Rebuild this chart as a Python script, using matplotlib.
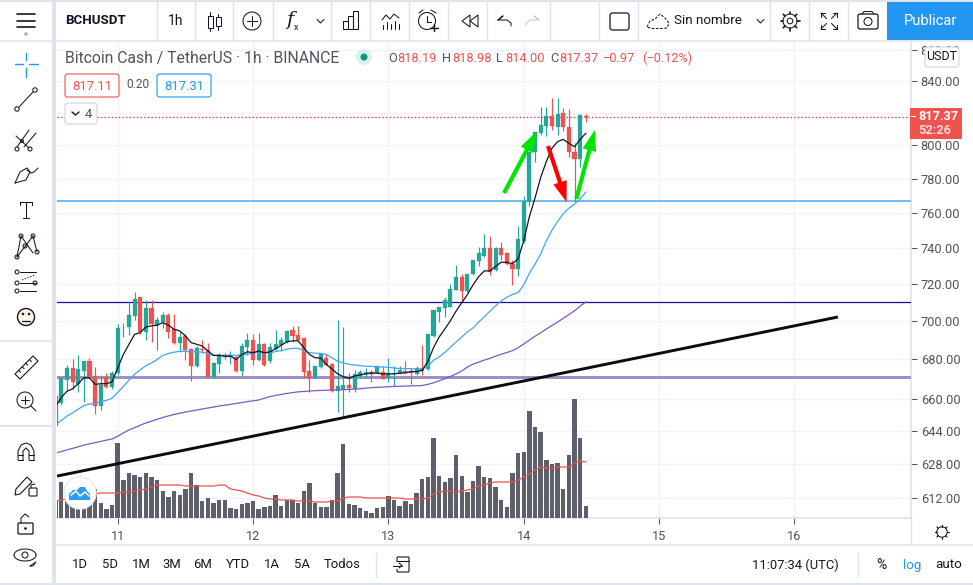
import numpy as np
import matplotlib
matplotlib.use('Agg')
import matplotlib.pyplot as plt
from matplotlib.patches import Circle, FancyBboxPatch, Polygon, Rectangle

plt.rcParams['font.family'] = ['Roboto', 'DejaVu Sans']

# hours from 11th 00:00, one candle per hour
times = np.arange(-11, 84)

opens = [646.6, 657.9, 669.3, 675.5, 667.5, 674.1, 679.3, 671.4, 656.1, 670.7,
         665.8, 672.8, 696.2, 696.9, 702.7, 713.0, 694.5, 706.8, 698.0, 699.7,
         703.1, 695.7, 688.7, 692.2, 685.1, 676.7, 685.5, 684.6, 671.1, 677.8,
         682.1, 681.1, 681.3, 674.2, 686.4, 690.1, 679.5, 687.8, 679.0, 685.5,
         687.3, 689.2, 695.4, 692.6, 691.0, 674.1, 670.6, 675.9, 680.8, 677.8,
         663.7, 664.9, 666.7, 664.9, 671.6, 672.5, 673.4, 673.2, 673.4, 670.2,
         672.5, 672.9, 674.1, 674.1, 672.5, 675.0, 675.0, 692.1, 705.1, 706.9,
         707.7, 716.8, 723.6, 716.0, 725.3, 732.6, 735.3, 739.8, 727.6, 739.8,
         736.9, 730.8, 728.1, 744.1, 766.0, 795.9, 807.5, 811.8, 818.0, 811.3,
         819.6, 811.3, 796.1, 791.7, 818.19]
highs = [662, 670.7, 677.2, 680.4, 682, 679.3, 680.7, 676, 671.9, 673.2,
         674.2, 698.3, 699.2, 710.1, 715.6, 713, 711.5, 711.2, 702.2, 705,
         704.5, 703.6, 694.3, 693.1, 686, 686.9, 689.9, 688.7, 678.5, 683.4,
         683.4, 684.3, 681.6, 688.7, 693.6, 693.1, 693.6, 688.7, 688.7, 695.4,
         691.7, 695.4, 697.2, 697.2, 691, 679.5, 676.4, 683.4, 682.9, 678.1,
         700.5, 697.1, 672.9, 674.6, 674.3, 675.5, 674.3, 676.7, 676.7, 680.8,
         676.4, 676.4, 679, 675.5, 676.4, 687.3, 693.1, 705.8, 707.8, 713,
         720, 730.3, 725.3, 725.4, 733.5, 740.5, 748, 747, 740.5, 743.5,
         737.8, 733.4, 752.3, 769.5, 796.1, 808, 823.6, 823.6, 829.2, 829.2,
         823, 822.3, 801.6, 819, 818.98]
lows = [646, 657, 664, 664.9, 663.1, 658.4, 670.2, 652.1, 654.3, 665.3,
        664.9, 671.9, 691.8, 692.5, 700.6, 693.1, 689.9, 689.2, 684.8, 696.6,
        690.9, 688.1, 683.7, 679.5, 669, 676, 683.4, 670.7, 670.2, 672.8,
        679.9, 677.8, 673.7, 671.4, 682, 676.9, 679, 676.7, 678.1, 684.3,
        684.3, 688.7, 689.2, 689.2, 670.2, 663.5, 670.2, 675.5, 676.9, 663.5,
        653.2, 650.5, 663.2, 663.2, 670.2, 670.2, 668.5, 672.9, 669.7, 668.5,
        666.2, 672.5, 672.9, 667.2, 672, 672, 674.6, 691.8, 699.3, 702,
        707.5, 716.5, 711, 715.4, 724.9, 729.7, 735.1, 724.9, 727.2, 733.4,
        730.3, 719.5, 724.3, 743, 764, 789.9, 806.3, 805.7, 809.3, 806.3,
        808.9, 792.9, 766.4, 787.1, 814]
closes = [661.4, 670.2, 675.5, 668.4, 675.1, 679.3, 670.7, 656.5, 666.7, 665.8,
          673.2, 696.6, 696.6, 703.1, 712.1, 694.3, 706.8, 698.3, 700.5, 703.1,
          694.5, 688.7, 691.8, 684.6, 676.3, 685.7, 684.8, 671.1, 678.1, 682.1,
          681.1, 682, 674.2, 686.9, 689.9, 679.5, 687.8, 677.3, 686.4, 687.8,
          689.9, 694.9, 692.2, 690.1, 673.7, 670.2, 676.4, 682.5, 677.3, 663.7,
          666.2, 666.7, 665.3, 672.3, 673.7, 673.4, 672.3, 676.4, 669.9, 672.9,
          672.9, 674.3, 673.2, 672.9, 675.5, 673.9, 693.1, 705.8, 707.4, 711.1,
          717.4, 723.6, 716, 725.4, 733.5, 736.9, 739.8, 726.7, 739.8, 736.2,
          730.8, 728.1, 745, 766.6, 796.1, 808, 812.4, 818, 811.8, 819,
          811.3, 796.1, 791.7, 818.34, 817.37]

ma_black = [656.1, 660.5, 663.7, 664.9, 667.5, 670.5, 670.5, 667.2, 667.5, 667.5,
            668.4, 675.5, 682.5, 687.8, 693, 693.9, 696.9, 697.5, 697.8, 699.2,
            697.8, 695.7, 694.8, 692.2, 688.7, 687.8, 686.9, 684.3, 682, 682,
            681.6, 681.6, 679.9, 682.5, 683.9, 683.4, 684.3, 683.4, 683.8, 685.5,
            687.3, 689.1, 689.6, 689.6, 686, 682.5, 680.8, 680.6, 677.3, 675,
            672.5, 671.1, 670.2, 671.4, 672, 672.5, 672.9, 672.9, 672.5, 672.5,
            672.5, 672.9, 673, 673.7, 673.7, 674.3, 679, 686, 691.6, 695.8,
            700.2, 705.4, 709.8, 714.2, 719.5, 724, 727.2, 727.2, 729.7, 732,
            732, 731.2, 733.9, 744.1, 757.8, 768.6, 780.7, 790.1, 798.2, 802.2,
            803.6, 801.2, 799.1, 803.6, 807.3]
ma_blue = [647.3, 649.1, 651.3, 652.9, 654.7, 656.5, 657.3, 657.5, 658.4, 659.1,
           660.2, 663.1, 666.1, 669.3, 672.3, 674.6, 676.7, 678.1, 679.9, 682,
           683, 683.7, 684.1, 684.1, 683.9, 683.9, 683.7, 683, 682.1, 682.1,
           682.1, 682.1, 682, 682.5, 682.5, 683.4, 683.9, 683.4, 683.4, 684,
           684.5, 685.2, 685.7, 685.7, 684.3, 683.4, 683.2, 683, 682.5, 680.8,
           679, 678.1, 677.4, 677.1, 676.7, 676.4, 676.4, 676, 676, 675.9,
           675.5, 675.3, 675.2, 675.2, 675, 675.2, 676.4, 679.5, 681.2, 683.6,
           686.3, 689, 691.6, 694.3, 696.4, 699.5, 702.3, 705.3, 708.2, 710.8,
           712.8, 714.3, 715.4, 719.5, 725.9, 731, 736.6, 744, 750, 755,
           759.5, 762.7, 765, 768, 772]
ma_purple = [633.3, 634, 634.8, 635.5, 636.3, 637.1, 637.7, 638.3, 638.9, 639.5,
             640.1, 641.4, 643, 644.5, 645.6, 646.8, 647.9, 648.8, 649.7, 650.6,
             651.4, 652.1, 652.7, 653.3, 653.8, 654.3, 654.8, 655.3, 655.8, 656.3,
             656.7, 657.1, 657.6, 658, 658.5, 658.9, 659.3, 660.2, 661, 661.6,
             662.1, 662.6, 663, 663.4, 663.6, 663.8, 664, 664.1, 664.2, 664.3,
             664.4, 664.5, 664.6, 664.8, 665, 665.3, 665.5, 665.7, 665.8, 666,
             666.1, 666.2, 666.3, 666.4, 666.5, 666.6, 667.2, 668, 669, 670,
             671.2, 672.5, 674, 676, 677.5, 678.5, 679.6, 680.5, 681.6, 682.6,
             683.5, 684.5, 686, 688, 690, 692, 693.8, 695.8, 697.7, 699.5,
             701.5, 703.5, 705.5, 708, 710.2]

volumes = [17, 36, 27, 21, 14, 17, 21, 29, 15, 9,
           13, 75, 38, 45, 43, 41, 45, 41, 38, 27,
           21, 27, 23, 29, 45, 33, 17, 20, 15, 18,
           18, 10, 9, 14, 15, 17, 9, 11, 12, 23,
           12, 18, 18, 15, 27, 35, 15, 11, 11, 18,
           45, 74, 14, 13, 10, 7, 5, 10, 11, 22,
           18, 12, 17, 14, 25, 39, 41, 80, 42, 36,
           40, 63, 42, 26, 37, 52, 41, 40, 31, 18,
           11, 45, 65, 66, 107, 91, 86, 58, 54, 55,
           29, 63, 119, 80, 12]
vol_ma = [17, 18, 19, 20, 21, 22, 23, 24, 25, 25,
          25, 25, 26, 26, 27, 28, 29, 31, 33, 33,
          33, 33, 33, 32, 32, 32, 32, 32, 32, 33,
          33, 29, 28, 27, 25, 23, 22, 20, 19, 19,
          18, 18, 18, 17, 17, 17, 16, 16, 16, 17,
          17, 20, 21, 21, 21, 20, 20, 20, 20, 20,
          20, 20, 19, 19, 19, 19, 20, 24, 26, 27,
          27, 26, 27, 28, 29, 32, 33, 35, 36, 36,
          36, 36, 38, 41, 44, 48, 51, 50, 50, 51,
          51, 51, 55, 57, 56]

price_ticks = [860, 840, 820, 800, 780, 760, 740, 720, 700, 680, 660, 644, 628, 612]
# the 820 label sits behind the last price tag
price_labels = ['860.00', '840.00', '', '800.00', '780.00', '760.00', '740.00', '720.00',
                '700.00', '680.00', '660.00', '644.00', '628.00', '612.00']
day_ticks = [0, 24, 48, 72, 96, 120]
day_labels = ['11', '12', '13', '14', '15', '16']

level_blue = 766.7
level_navy = 710.5
level_purple = 670.9
last_price = 817.37
trend_x = [-10.76, 127.7]
trend_y = [622.3, 702.2]
# tail, tip, colour of the hand drawn arrows
arrows = [((68.5, 771.5), (74.3, 808.5), '#00e600'),
          ((76.3, 799.5), (79.6, 766.2), '#ff0000'),
          ((81.3, 768.0), (84.6, 809.3), '#00e600')]

UP = '#26a69a'
DOWN = '#ef5350'
GRID = '#f0f3fa'
BORDER = '#e0e3eb'
INK = '#131722'
TXT = '#50535e'

W, H = 973, 585
fig = plt.figure(figsize=(W / 100, H / 100), dpi=100, facecolor='white')
rect = [57 / W, 1 - 518 / H, (911 - 57) / W, (518 - 41) / H]

# bottom layer: scales, ticks and grid
base = fig.add_axes(rect, zorder=1)
base.set_yscale('log')
base.set_xlim(-10.76, 140.66)
base.set_ylim(602.8, 865.9)
base.set_yticks(price_ticks)
base.set_yticklabels(price_labels)
base.minorticks_off()
base.yaxis.tick_right()
base.set_xticks(day_ticks)
base.set_xticklabels(day_labels)
base.tick_params(axis='y', length=4, width=0.7, color=TXT, labelcolor=TXT, labelsize=9.2, pad=3)
base.tick_params(axis='x', length=4, width=0.7, color=TXT, labelcolor=TXT, labelsize=9.2, pad=5)
base.grid(True, color=GRID, lw=1)
base.set_axisbelow(True)
for side in ['top', 'left']:
    base.spines[side].set_visible(False)
for side in ['right', 'bottom']:
    base.spines[side].set_color(BORDER)
    base.spines[side].set_linewidth(1.2)

# volume sits over the grid
vol = fig.add_axes(rect, zorder=2, sharex=base)
vol.patch.set_visible(False)
vol.axis('off')
vol.set_ylim(0, 477)
vol.bar(times, volumes, width=0.78, color='#5d606b', linewidth=0)
vol.plot(times, vol_ma, color='#ef5350', lw=0.9)

# price layer on top
ax = fig.add_axes(rect, zorder=3, sharex=base, sharey=base)
ax.patch.set_visible(False)
ax.axis('off')
o = np.array(opens)
c = np.array(closes)
colors = [UP if b >= a else DOWN for a, b in zip(opens, closes)]
ax.axhline(level_purple, color='#9b8ec7', lw=2.1, zorder=1)
ax.axhline(level_navy, color='#1f0f8f', lw=0.9, zorder=1)
ax.axhline(level_blue, color='#64b5f6', lw=1.3, zorder=1)
ax.vlines(times, lows, highs, colors=colors, lw=0.85, zorder=2)
ax.bar(times, np.abs(c - o), bottom=np.minimum(o, c), width=0.72, color=colors,
       edgecolor=colors, linewidth=0.2, zorder=3)
ax.plot(times, ma_purple, color='#7e57c2', lw=0.9, zorder=4)
ax.plot(times, ma_blue, color='#42a5f5', lw=0.9, zorder=4)
ax.plot(times, ma_black, color='#131722', lw=0.9, zorder=4)
ax.axhline(last_price, color='#f23645', lw=1.0, ls=(0, (1, 1.6)), zorder=2)
ax.plot(trend_x, trend_y, color='#0b0b10', lw=2.1, zorder=5, solid_capstyle='butt')
for tail, tip, col in arrows:
    ax.annotate('', xy=tip, xytext=tail, zorder=6, annotation_clip=False,
                arrowprops=dict(arrowstyle='simple,head_length=15,head_width=10,tail_width=3',
                                mutation_scale=1, color=col, lw=0, shrinkA=0, shrinkB=0))

# screen furniture in pixel coordinates
ui = fig.add_axes([0, 0, 1, 1], zorder=4)
ui.set_xlim(0, W)
ui.set_ylim(H, 0)
ui.patch.set_visible(False)
ui.axis('off')


def seg(xs, ys, col=INK, lw=0.75, **kw):
    ui.plot(xs, ys, color=col, lw=lw, solid_capstyle='round', **kw)


def ring(x, y, r, col=INK, lw=0.75, fc='none'):
    ui.add_patch(Circle((x, y), r, fc=fc, ec=col, lw=lw))


def box(x0, y0, x1, y1, ec=INK, fc='none', lw=0.75, r=2):
    ui.add_patch(FancyBboxPatch((x0 + r, y0 + r), x1 - x0 - 2 * r, y1 - y0 - 2 * r,
                                boxstyle='round,pad=%g,rounding_size=%g' % (r, r), fc=fc, ec=ec, lw=lw))


def label(x, y, s, col=INK, size=9.2, ha='center', **kw):
    ui.text(x, y, s, color=col, fontsize=size, ha=ha, va='center', **kw)


# frame and separators
ui.add_patch(Rectangle((0, 0), W, 2, fc=BORDER, ec='none'))
ui.add_patch(Rectangle((52, 0), 4, H, fc=BORDER, ec='none'))
ui.add_patch(Rectangle((0, 583), W, 2, fc=BORDER, ec='none'))
seg([0, W], [40.5, 40.5], BORDER, 1.1)
seg([56, W], [545, 545], BORDER, 1.1)
for x in [157, 195, 233, 273, 331, 370, 409, 448, 487, 550, 599, 638, 770, 809, 848]:
    seg([x, x], [2, 40], BORDER, 1.0)
for y in [341, 426]:
    seg([0, 52], [y, y], BORDER, 1.3)
for x, y0, y1 in [(376, 553, 577), (858, 553, 577), (911, 518, 545)]:
    seg([x, x], [y0, y1], BORDER, 1.0)

# top bar
for y in [14, 20.5, 27]:
    seg([17, 35], [y, y], INK, 1.2)
ring(26, 34, 1.4, '#b2b5be', 0.5, '#b2b5be')
label(65, 21, 'BCHUSDT', INK, 9.6, ha='left', fontweight='bold')
label(176, 21, '1h', INK, 10)
ui.add_patch(Rectangle((208, 16), 4.5, 12, fc='white', ec=INK, lw=0.75))
seg([210, 210], [12, 16]); seg([210, 210], [28, 31])
ui.add_patch(Rectangle((216, 17), 4.5, 9, fc='white', ec=INK, lw=0.75))
seg([218, 218], [14, 17]); seg([218, 218], [26, 30])
ring(252, 21, 9)
seg([247, 257], [21, 21]); seg([252, 252], [16, 26])
label(290, 20, 'f', INK, 14, family='DejaVu Serif', style='italic')
label(296, 27, 'x', INK, 6.5)
seg([317, 320.5, 324], [19.5, 23, 19.5])
for x0, h in [(343, 8), (348, 13), (353, 18)]:
    ui.add_patch(Rectangle((x0, 29 - h), 5, h, fc='none', ec=INK, lw=0.75))
seg([382, 386, 390, 394, 399], [20, 15, 19, 14, 18])
for x, t in [(383, 25), (387, 22), (391, 24), (395, 21), (399, 24)]:
    seg([x, x], [t, 29])
ring(427, 21, 8.5)
seg([427, 427, 431], [16, 22, 22])
seg([419, 423], [13, 10]); seg([431, 436], [10, 13])
seg([434, 434], [24, 31], INK, 1.0); seg([430, 438], [27.5, 27.5], INK, 1.0)
ui.add_patch(Polygon([[470, 15], [462, 21], [470, 27]], fc='none', ec=INK, lw=0.75))
ui.add_patch(Polygon([[478, 15], [470, 21], [478, 27]], fc='none', ec=INK, lw=0.75))
seg([498, 503, 498], [20, 16, 20]); seg([498, 507, 511, 511], [20, 20, 23, 26])
seg([539, 534, 539], [20, 16, 20], '#c8cad0'); seg([539, 530, 526, 526], [20, 20, 23, 26], '#c8cad0')
box(610, 13, 629, 30, INK, lw=0.9, r=2.5)
seg([647, 650, 655, 660, 665, 669, 667, 660, 652, 647], [27, 21, 19, 14, 18, 23, 28, 28.5, 28.5, 27],
    INK, 0.75, ls=(0, (2.5, 1.5)))
label(674, 21, 'Sin nombre', INK, 9.6, ha='left')
seg([757, 760.5, 764], [19.5, 23, 19.5])
ring(790, 21, 7)
ring(790, 21, 2.8)
for a in np.arange(0, 2 * np.pi, np.pi / 4):
    seg([790 + 7 * np.cos(a), 790 + 9.5 * np.cos(a)], [21 + 7 * np.sin(a), 21 + 9.5 * np.sin(a)], INK, 1.2)
for sx, sy in [(-1, -1), (1, -1), (-1, 1), (1, 1)]:
    seg([829 + sx * 2.5, 829 + sx * 8], [21 + sy * 2.5, 21 + sy * 8])
    seg([829 + sx * 8, 829 + sx * 8, 829 + sx * 4], [21 + sy * 4, 21 + sy * 8, 21 + sy * 8])
box(858, 14, 878, 29, INK, lw=0.9, r=2)
seg([862, 864, 872, 874], [14, 11.5, 11.5, 14])
ring(868, 21.5, 4)
ui.add_patch(Rectangle((887, 2), 86, 38, fc='#2196f3', ec='none'))
label(930, 21, 'Publicar', 'white', 10.5)

# left bar
for xs, ys in [([15, 23], [64, 64]), ([29, 38], [64, 64]), ([26, 26], [53, 60]), ([26, 26], [68, 77])]:
    seg(xs, ys, '#2196f3', 1.0)
seg([19, 33], [107, 92]); ring(17, 109, 2.2); ring(35, 90, 2.2)
seg([17, 29], [147, 130]); seg([24, 36], [147, 133]); seg([16, 29], [136, 148])
ring(17, 149, 2); ring(30, 149, 2); ring(22, 141, 1.5)
seg([15, 20, 27, 30, 26, 15], [183, 172, 168, 172, 180, 183]); seg([27, 31, 34, 38], [170, 173, 172, 168])
seg([20, 32], [202, 202]); seg([26, 26], [202, 218]); seg([20, 20], [202, 205]); seg([32, 32], [202, 205]); seg([23, 29], [218, 218])
for a, b in [((17, 257), (21, 236)), ((21, 236), (33, 253)), ((17, 257), (33, 236)), ((33, 236), (37, 252))]:
    seg([a[0], b[0]], [a[1], b[1]])
for x, y in [(17, 257), (21, 236), (33, 236), (37, 252), (25, 246)]:
    ring(x, y, 2, INK, 0.75, 'white')
for y, x in [(272, 15), (283, 15), (291, 15)]:
    ring(x + 2, y, 2)
    seg([x + 5, 36], [y, y])
ring(35, 283, 2)
seg([22, 35], [280, 275], INK, 0.7, ls=(0, (1.5, 1.5)))
ring(26, 317, 8.5, INK, 1.0, '#fbf3e6')
ring(23, 314, 0.8, INK, 0.7, INK); ring(29, 314, 0.8, INK, 0.7, INK)
seg([22, 30], [321, 321], INK, 0.9)
ui.add_patch(Polygon([[15, 374], [33, 356], [38, 361], [20, 379]], fc='none', ec=INK, lw=0.8))
for k in range(1, 5):
    seg([15 + k * 3.6, 17 + k * 3.6], [374 - k * 3.6, 376 - k * 3.6])
ring(25, 400, 8)
seg([21, 29], [400, 400]); seg([25, 25], [396, 404]); seg([31, 36], [406, 411])
seg([18, 18, 21, 26, 31, 34, 34], [460, 451, 445, 443, 445, 451, 460])
seg([23, 23, 26, 29, 29], [460, 451, 448, 451, 460]); seg([18, 23], [460, 460]); seg([29, 34], [460, 460])
seg([18, 23], [455, 455]); seg([29, 34], [455, 455])
ui.add_patch(Polygon([[16, 489], [27, 477], [32, 482], [20, 494], [15, 495]], fc='none', ec=INK, lw=0.8))
box(29, 488, 37, 496, INK, 'white', 0.8, 1)
seg([31, 31, 35], [488, 485, 484])
box(18, 523, 33, 534, INK, 'none', 0.9, 1)
seg([21, 21, 25, 29], [523, 518, 514, 517])
ring(25.5, 528.5, 0.8, INK, 0.7, INK)
th = np.linspace(0, np.pi, 20)
seg(25 + 11 * np.cos(th), 555 - 6 * np.sin(th))
seg(25 + 11 * np.cos(th), 555 + 6 * np.sin(th))
ring(25, 555, 3)
seg([30, 36, 33, 30], [566, 562, 566, 566], INK, 0.7)

# legend rows
label(65, 58, 'Bitcoin Cash / TetherUS · 1h · BINANCE', TXT, 11.3, ha='left')
ring(364, 57, 8, 'none', 0, '#d9f0ec')
ring(364, 57, 3.5, 'none', 0, '#089981')
pos = [(388, 'O', TXT), (397, '818.19', DOWN), (442, 'H', TXT), (452, '818.98', DOWN),
       (496, 'L', TXT), (505, '814.00', DOWN), (550, 'C', TXT), (559, '817.37', DOWN),
       (603, '\u22120.97', DOWN), (642, '(\u22120.12%)', DOWN)]
for x, s, col in pos:
    label(x, 58, s, col, 9.2, ha='left')
box(65, 74, 119, 97, DOWN, 'white', 0.8, 2.5)
label(92, 86, '817.11', DOWN, 9.4)
label(138, 85, '0.20', TXT, 8.6)
box(157, 74, 211, 97, '#2196f3', 'white', 0.8, 2.5)
label(184, 86, '817.31', '#2196f3', 9.4)
box(65, 103, 97, 124, '#d1d4dc', 'white', 0.8, 2.5)
seg([72, 75.5, 79], [112, 115, 112], INK, 1.0)
label(88.5, 114, '4', TXT, 9.4)

# price scale tags
box(925, 47, 959, 67, '#d1d4dc', 'white', 0.8, 3)
label(942, 57, 'USDT', INK, 9)
ui.add_patch(Rectangle((910, 108), 52, 31, fc=DOWN, ec='none'))
seg([911, 915], [116, 116], 'white', 0.8)
label(938, 116, '817.37', 'white', 9.2, fontweight='bold')
label(935, 130.5, '52:26', '#fbdcdc', 9.2, fontweight='bold')

# logo
ring(80, 493, 16, '#e8eaef', 1.0, 'white')
ui.add_patch(Polygon([[69, 500], [69, 494], [73, 490], [77, 490], [80, 487], [85, 487], [87, 491],
                      [90, 494], [90, 500]], fc='#2f9cf4', ec='none'))
seg([71, 76, 80, 85, 89], [495, 491, 496, 492, 496], 'white', 1.1)

# gear at the end of the time scale
ring(942, 532, 5.2)
for a in np.arange(0, 2 * np.pi, np.pi / 4):
    seg([942 + 5.2 * np.cos(a), 942 + 7.2 * np.cos(a)], [532 + 5.2 * np.sin(a), 532 + 7.2 * np.sin(a)], INK, 0.8)

# bottom bar
for x, s in [(80, '1D'), (110, '5D'), (141, '1M'), (172, '3M'), (203, '6M'), (238, 'YTD'),
             (272, '1A'), (302, '5A'), (342, 'Todos')]:
    label(x, 565, s, INK, 9.4)
box(397, 557, 409, 572, INK, lw=0.8, r=1)
seg([397, 409], [561, 561])
ui.add_patch(Rectangle((393, 562), 6, 7, fc='white', ec='none'))
seg([393, 402], [565.5, 565.5]); seg([399, 402, 399], [563, 565.5, 568])
label(795, 565, '11:07:34 (UTC)', INK, 9.4)
label(881, 565, '%', INK, 10)
label(912, 565, 'log', '#2196f3', 9.6)
label(949, 565, 'auto', INK, 9.6)

fig.savefig('out.png', dpi=100, facecolor='white')
